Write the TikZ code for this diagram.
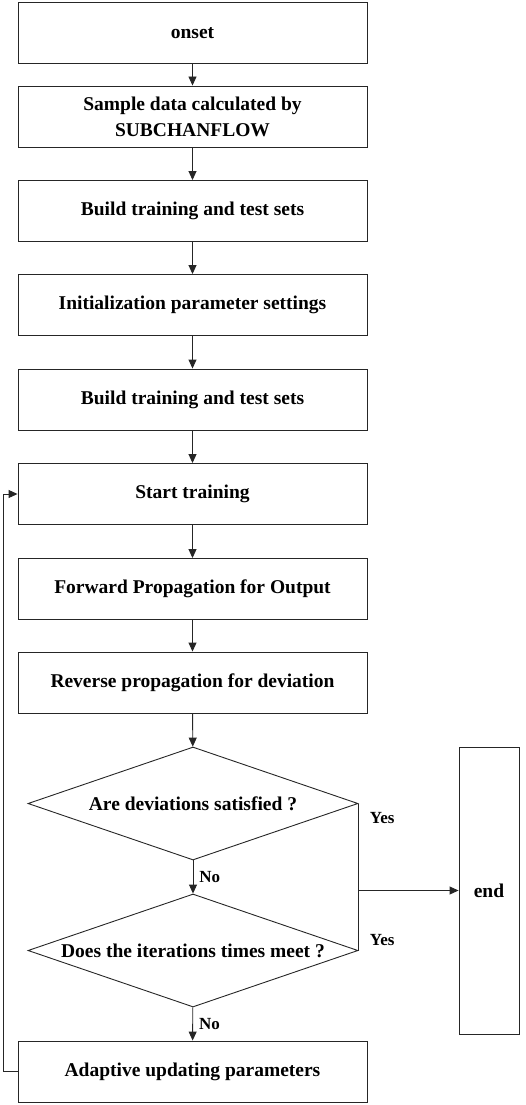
\documentclass[tikz,border=0pt]{standalone}
\usepackage{fontspec}
\setmainfont{Liberation Serif}
\usetikzlibrary{shapes.geometric,arrows.meta}
\begin{document}
\begin{tikzpicture}[x=1pt, y=-1pt, >={Triangle[length=9pt,width=8pt]},
  color=black!85, line width=0.9pt,
  box/.style={draw, rectangle, minimum width=349pt, minimum height=61pt, align=center, inner sep=2pt,
    text=black, font=\fontsize{19.5}{26}\selectfont\bfseries},
  decision/.style={draw, diamond, aspect=2.92, minimum width=330pt, minimum height=113pt, inner sep=0pt,
    text=black, font=\fontsize{19.5}{23}\selectfont\bfseries},
  lbl/.style={inner sep=2pt, text=black, font=\fontsize{17}{19}\selectfont\bfseries}]
  \useasboundingbox (0,0) rectangle (526,1105);
  \node[box] (onset) at (192.5, 33) {onset};
  \node[box] (sample) at (192.5, 116.5) {Sample data calculated by\\SUBCHANFLOW};
  \node[box] (build1) at (192.5, 211) {Build training and test sets};
  \node[box] (init) at (192.5, 305) {Initialization parameter settings};
  \node[box] (build2) at (192.5, 399.5) {Build training and test sets};
  \node[box] (start) at (192.5, 494) {Start training};
  \node[box] (fwd) at (192.5, 589) {Forward Propagation for Output};
  \node[box] (rev) at (192.5, 682.5) {Reverse propagation for deviation};
  \node[decision] (dev) at (193, 803.5) {Are deviations satisfied ?};
  \node[decision] (iter) at (193, 950.5) {Does the iterations times meet ?};
  \node[box] (adapt) at (192.5, 1071.5) {Adaptive updating parameters};
  \node[box, minimum width=60pt, minimum height=287pt] (end) at (489, 890.5) {end};
  \coordinate (yes) at (dev.east |- end.west);
  \draw[->] (onset) -- (sample);
  \draw[->] (sample) -- (build1);
  \draw[->] (build1) -- (init);
  \draw[->] (init) -- (build2);
  \draw[->] (build2) -- (start);
  \draw[->] (start) -- (fwd);
  \draw[->] (fwd) -- (rev);
  \draw[->] (rev) -- (dev);
  \draw[->] (dev) -- (iter) node[midway, right=4pt, lbl] {No};
  \draw[->] (iter) -- (adapt) node[midway, right=4pt, lbl] {No};
  \draw (dev.east) -- (yes) node[pos=0.17, right=9pt, lbl] {Yes} -- (iter.east) node[pos=0.82, right=9pt, lbl] {Yes};
  \draw[->] (yes) -- (end.west);
  \draw[->] (adapt.west) -- ++(-14,0) |- (start.west);
\end{tikzpicture}
\end{document}
